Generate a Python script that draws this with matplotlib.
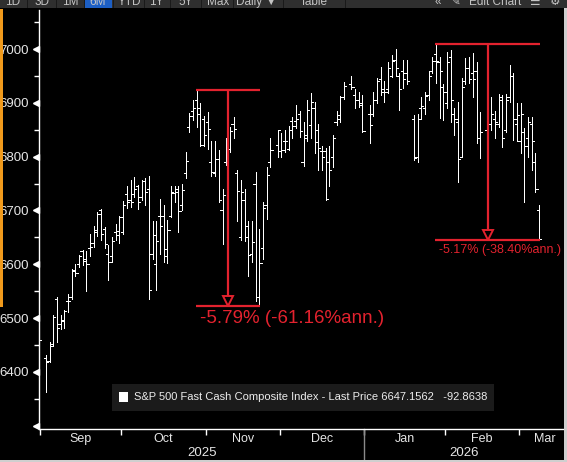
import matplotlib
matplotlib.use('Agg')
import matplotlib.pyplot as plt
import matplotlib.transforms as mtransforms
from matplotlib.patches import Rectangle
import numpy as np
import pandas as pd

plt.rcParams['font.family'] = ['Liberation Sans', 'DejaVu Sans']

# S&P 500 daily bars (Aug 29 2025 - Mar 9 2026)
start = '2025-08-29'
end = '2026-03-09'
holidays = ['2025-09-01', '2025-11-27', '2025-12-25',
            '2026-01-01', '2026-01-19', '2026-02-16']

opens = [6500,
         # Sep
         6425, 6420, 6452, 6535, 6490, 6497, 6531, 6540, 6590, 6600,
         6625, 6610, 6630, 6640, 6660, 6700, 6665, 6620, 6615, 6660, 6655,
         # Oct
         6660, 6730, 6720, 6730, 6745, 6725, 6755, 6740, 6620, 6600,
         6690, 6690, 6615, 6690, 6733, 6740, 6710, 6770, 6856, 6885,
         6905, 6880, 6870,
         # Nov
         6865, 6790, 6770, 6795, 6700, 6790, 6815, 6860, 6770, 6650,
         6720, 6650, 6620, 6750, 6540, 6630, 6710, 6790, 6822,
         # Dec
         6810, 6830, 6815, 6866, 6866, 6880, 6790, 6835, 6858, 6890,
         6850, 6810, 6810, 6790, 6800, 6865, 6870, 6910, 6935, 6915,
         6905, 6900,
         # Jan
         6880, 6880, 6905, 6945, 6920, 6925, 6950, 6980, 6950, 6960,
         6955, 6870, 6800, 6890, 6890, 6915, 6960, 6990, 6975, 6930,
         # Feb
         6900, 6985, 6880, 6865, 6800, 6940, 6965, 6955, 6960, 6835,
         6850, 6860, 6870, 6860, 6905, 6850, 6910, 6950, 6860,
         # Mar
         6830, 6845, 6835, 6860, 6790, 6700]

highs = [6505,
         6432, 6455, 6505, 6540, 6505, 6515, 6545, 6592, 6600, 6618,
         6627, 6625, 6656, 6671, 6697, 6702, 6670, 6635, 6650, 6675, 6690,
         6718, 6745, 6757, 6763, 6748, 6757, 6760, 6764, 6680, 6680,
         6722, 6711, 6683, 6745, 6745, 6745, 6750, 6809, 6882, 6905,
         6923, 6900, 6876,
         6883, 6830, 6830, 6813, 6739, 6835, 6855, 6874, 6776, 6757,
         6740, 6680, 6680, 6772, 6665, 6716, 6780, 6835, 6850,
         6844, 6850, 6857, 6874, 6896, 6885, 6865, 6905, 6918, 6902,
         6860, 6820, 6817, 6820, 6841, 6884, 6912, 6939, 6950, 6925,
         6920, 6915,
         6896, 6920, 6946, 6967, 6940, 6975, 6989, 7000, 6955, 6980,
         6980, 6878, 6880, 6910, 6920, 6960, 6985, 7010, 6985, 6935,
         6994, 6998, 6890, 6902, 6946, 6983, 6985, 6992, 6975, 6883,
         6876, 6911, 6885, 6917, 6915, 6917, 6970, 6955, 6900,
         6900, 6854, 6874, 6874, 6807, 6711]

lows = [6445,
        6362, 6418, 6448, 6455, 6480, 6482, 6512, 6535, 6578, 6595,
        6599, 6551, 6615, 6633, 6652, 6645, 6630, 6570, 6605, 6645, 6640,
        6656, 6705, 6707, 6725, 6702, 6720, 6710, 6535, 6610, 6552,
        6620, 6605, 6603, 6688, 6715, 6660, 6700, 6760, 6845, 6868,
        6855, 6820, 6820,
        6815, 6765, 6765, 6715, 6637, 6785, 6809, 6835, 6680, 6646,
        6643, 6578, 6605, 6531, 6522, 6610, 6685, 6780, 6800,
        6800, 6808, 6812, 6834, 6854, 6836, 6782, 6830, 6835, 6807,
        6775, 6775, 6720, 6745, 6781, 6859, 6865, 6908, 6925, 6890,
        6893, 6845,
        6826, 6875, 6900, 6915, 6902, 6918, 6948, 6950, 6887, 6928,
        6935, 6794, 6790, 6870, 6880, 6905, 6955, 6937, 6872, 6868,
        6891, 6865, 6841, 6752, 6800, 6935, 6937, 6911, 6826, 6798,
        6820, 6850, 6835, 6855, 6818, 6845, 6902, 6831, 6830,
        6807, 6715, 6800, 6776, 6735, 6645]

closes = [6460,
          6418, 6448, 6502, 6482, 6495, 6513, 6532, 6587, 6584, 6615,
          6607, 6600, 6632, 6664, 6694, 6657, 6638, 6605, 6644, 6661, 6688,
          6711, 6715, 6716, 6740, 6715, 6754, 6735, 6553, 6655, 6644,
          6671, 6629, 6664, 6735, 6735, 6699, 6738, 6792, 6875, 6891,
          6891, 6822, 6840,
          6852, 6772, 6796, 6720, 6729, 6832, 6847, 6851, 6737, 6734,
          6672, 6617, 6642, 6539, 6603, 6705, 6766, 6813, 6849,
          6813, 6829, 6850, 6857, 6870, 6847, 6841, 6887, 6901, 6827,
          6817, 6800, 6722, 6775, 6834, 6878, 6910, 6932, 6930, 6906,
          6896, 6848,
          6858, 6905, 6940, 6925, 6920, 6965, 6978, 6965, 6925, 6945,
          6940, 6797, 6870, 6895, 6912, 6950, 6978, 6978, 6960, 6920,
          6975, 6905, 6870, 6795, 6930, 6965, 6945, 6945, 6835, 6845,
          6860, 6880, 6865, 6910, 6835, 6905, 6950, 6870, 6878,
          6880, 6820, 6865, 6830, 6740.02, 6647.1562]

# drawdown annotations: (window start, window end, label, font size)
drawdowns = [('2025-10-29', '2025-11-21', '-5.79% (-61.16%ann.)', 13.5),
             ('2026-01-28', '2026-03-09', '-5.17% (-38.40%ann.)', 9)]

series_name = 'S&P 500 Fast Cash Composite Index - Last Price'

# ---------------------------------------------------------------
W, H = 567, 462
fig = plt.figure(figsize=(W / 100, H / 100), dpi=100, facecolor='black')


def fbox(x0, y0, x1, y1):
    # pixel box (origin top-left) -> figure fraction rect
    return (x0 / W, 1 - y1 / H, (x1 - x0) / W, (y1 - y0) / H)


def fig_rect(x0, y0, x1, y1, color):
    r = fbox(x0, y0, x1, y1)
    fig.add_artist(Rectangle(r[:2], r[2], r[3], transform=fig.transFigure,
                             facecolor=color, edgecolor='none'))


ax = fig.add_axes(fbox(39, 10, 563, 429))
ax.set_facecolor('black')

dates = pd.bdate_range(start, end)
dates = dates[~dates.isin(pd.to_datetime(holidays))]
day0 = np.datetime64(start)
x = np.busday_count(day0, dates.values.astype('datetime64[D]')).astype(float)

o = np.array(opens, dtype=float)
h = np.array(highs, dtype=float)
l = np.array(lows, dtype=float)
c = np.array(closes, dtype=float)

tw = 0.6
ax.vlines(x, l, h, color='white', lw=0.72, antialiased=False)
ax.hlines(o, x - tw, x, color='white', lw=0.72, antialiased=False)
ax.hlines(c, x, x + tw, color='white', lw=0.72, antialiased=False)

xlo, xhi = x[0] + 0.14, x[-1] + 6.5
ax.set_xlim(xlo, xhi)
ax.set_ylim(6294, 7072.5)

# drawdown markers
red = '#e3222e'
ax_h_px = 419
ppu = ax_h_px / (7072.5 - 6294)
ms = 7
for d0, d1, label, fs in drawdowns:
    m = (dates >= d0) & (dates <= d1)
    idx = np.where(m)[0]
    i_hi = idx[np.argmax(h[idx])]
    i_lo = idx[np.argmin(l[idx])]
    hi, lo = h[i_hi], l[i_lo]
    x0, x1 = x[i_hi], x[i_lo]
    ax.hlines([hi, lo], x0 - 0.2, x1 + 0.2, color=red, lw=1.6)
    xm = (x0 + x1) / 2
    tri_top = lo + ms * 100 / 72 / ppu
    ax.vlines(xm, tri_top, hi, color=red, lw=1.6)
    tr = mtransforms.offset_copy(ax.transData, fig, y=ms / 2, units='points')
    ax.plot([xm], [lo], marker='v', ms=ms, mfc='black', mec=red, mew=1.4,
            transform=tr, zorder=5)
    ax.annotate(label, xy=(x0, lo), xytext=(2, -2.5), textcoords='offset points',
                ha='left', va='top', color=red, fontsize=fs)

# axes styling
for s in ['top', 'right']:
    ax.spines[s].set_visible(False)
for s in ['left', 'bottom']:
    ax.spines[s].set_color('white')
    ax.spines[s].set_linewidth(1.0)

yt = np.arange(6300, 7001, 100)
ax.set_yticks(yt)
ax.set_yticklabels(['' if v == 6300 else str(v) for v in yt])
ax.set_yticks(np.arange(6350, 7051, 100), minor=True)
ax.tick_params(axis='y', which='major', length=0, pad=7, labelsize=9.5,
               labelcolor='#e6e6e6')
ax.tick_params(axis='y', which='minor', length=3.5, width=1, color='white')
car = mtransforms.offset_copy(ax.get_yaxis_transform(), fig, x=-2.4, units='points')
ax.plot(np.zeros(len(yt)), yt, ls='none', marker='<', ms=4.5, color='white',
        transform=car, clip_on=False)

month_starts = pd.date_range('2025-09-01', '2026-03-01', freq='MS')
bounds = np.busday_count(day0, month_starts.values.astype('datetime64[D]')) - 0.5
edges = np.append(bounds, xhi + 2)
centers = (edges[:-1] + edges[1:]) / 2
ax.set_xticks(bounds)
ax.set_xticklabels([])
ax.set_xticks(centers, minor=True)
ax.set_xticklabels(month_starts.strftime('%b'), minor=True)
ax.tick_params(axis='x', which='major', length=4, width=1, color='white')
ax.tick_params(axis='x', which='minor', length=0, pad=3, labelsize=9,
               labelcolor='#e6e6e6')

jan = bounds[list(month_starts.year).index(2026)]
bt = mtransforms.blended_transform_factory(ax.transData, ax.transAxes)
ax.text((bounds[0] + jan) / 2, -0.057, '2025', transform=bt, ha='center',
        va='center', color='#e6e6e6', fontsize=9.5)
ax.text((jan + xhi) / 2, -0.057, '2026', transform=bt, ha='center',
        va='center', color='#e6e6e6', fontsize=9.5)
ax.plot([jan, jan], [0, -0.09], transform=bt, color='#8a8a8a', lw=1, clip_on=False)

# legend box
fig_rect(112, 384, 494, 411, '#1b1b1b')
fig_rect(119, 392, 128, 402, 'white')
fig.text(134 / W, 1 - 397.5 / H,
         f'{series_name} {c[-1]:.4f}   {c[-1] - c[-2]:.4f}',
         ha='left', va='center', color='#ececec', fontsize=8)

# left orange strip, right/bottom light edges
fig_rect(0, 9, 2.5, 307, '#f09a1c')
fig_rect(564, 8, 567, 462, '#cfcfcf')
fig_rect(0, 460, 567, 462, '#cfcfcf')

# toolbar strip (cut off at the top of the screenshot, as in the original)
fig_rect(0, 0, 567, 8, '#2f2f2f')
fig_rect(85, 0, 112, 8, '#1d5fc4')
buttons = [('1D', 13), ('3D', 42), ('1M', 70), ('6M', 98), ('YTD', 129),
           ('1Y', 156), ('5Y', 186), ('Max', 218), ('Daily \u25bc', 257),
           ('Table', 314), ('\u00ab', 438), ('\u270e', 456), ('Edit Chart', 495),
           ('\u2630', 535), ('\u2699', 555)]
for txt, bx in buttons:
    fig.text(bx / W, 1 - 5 / H, txt, ha='center', va='baseline', color='#c4c4c4',
             fontsize=8.5, family=['Liberation Sans', 'DejaVu Sans'])
for sx in [27, 56, 84, 113, 144, 170, 201, 233, 283, 345]:
    fig_rect(sx, 0, sx + 1, 8, '#1a1a1a')

fig.savefig('out.png', dpi=100, facecolor='black')
